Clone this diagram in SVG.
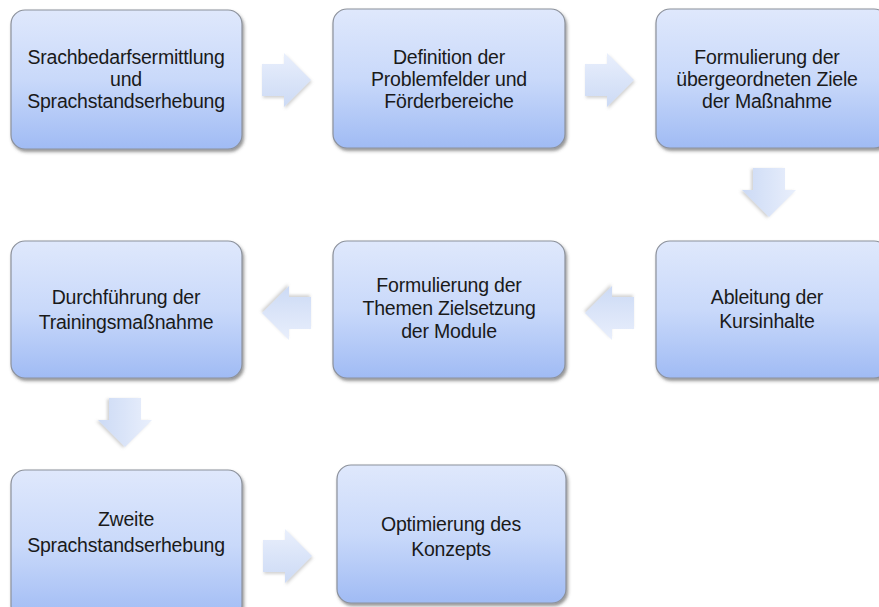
<svg xmlns="http://www.w3.org/2000/svg" width="879" height="607" viewBox="0 0 879 607">
<defs>
<linearGradient id="boxg" x1="0" y1="0" x2="0" y2="1">
<stop offset="0" stop-color="#dfe8fc"/>
<stop offset="0.5" stop-color="#c9d9fa"/>
<stop offset="1" stop-color="#a0bbf4"/>
</linearGradient>
<linearGradient id="arrh" x1="0" y1="0" x2="0" y2="1">
<stop offset="0" stop-color="#e9effc"/>
<stop offset="1" stop-color="#ccdaf5"/>
</linearGradient>
<filter id="sh" x="-10%" y="-10%" width="125%" height="125%">
<feDropShadow dx="1.5" dy="2.5" stdDeviation="1.5" flood-color="#404040" flood-opacity="0.55"/>
</filter>
<filter id="ash" x="-20%" y="-20%" width="150%" height="150%">
<feDropShadow dx="1" dy="2" stdDeviation="1.5" flood-color="#808080" flood-opacity="0.35"/>
</filter>
<path id="ar" d="M0,-16 L22,-16 L22,-27 L49,0 L22,27 L22,16 L0,16 Z"/>
</defs>
<style>
.box{fill:url(#boxg);stroke:#8c919b;stroke-width:1.2;filter:url(#sh)}
.arr{fill:url(#arrh);filter:url(#ash)}
text{font-family:"Liberation Sans",Arial,sans-serif;font-size:19.5px;fill:#1a1a1a;text-anchor:middle;letter-spacing:-0.2px}
</style>
<rect width="879" height="607" fill="#ffffff"/>
<g id="connectors">
<use href="#ar" class="arr" transform="translate(262,80)"/>
<use href="#ar" class="arr" transform="translate(585,80)"/>
<use href="#ar" class="arr" transform="translate(769,168) rotate(90)"/>
<use href="#ar" class="arr" transform="translate(634,313) rotate(180)"/>
<use href="#ar" class="arr" transform="translate(311,313) rotate(180)"/>
<use href="#ar" class="arr" transform="translate(125,398) rotate(90)"/>
<use href="#ar" class="arr" transform="translate(263,556)"/>
</g>
<g id="n1">
<rect class="box" x="11" y="10" width="231" height="139" rx="14"/>
<text x="126" y="64">Srachbedarfsermittlung</text>
<text x="126" y="86">und</text>
<text x="126" y="108">Sprachstandserhebung</text>
</g>
<g id="n2">
<rect class="box" x="333" y="9" width="232" height="139" rx="14"/>
<text x="449" y="64">Definition der</text>
<text x="449" y="86">Problemfelder und</text>
<text x="449" y="108">Förderbereiche</text>
</g>
<g id="n3">
<rect class="box" x="656" y="9" width="232" height="139" rx="14"/>
<text x="767" y="64">Formulierung der</text>
<text x="767" y="86">übergeordneten Ziele</text>
<text x="767" y="108">der Maßnahme</text>
</g>
<g id="n4">
<rect class="box" x="656" y="241" width="232" height="137" rx="14"/>
<text x="767" y="304">Ableitung der</text>
<text x="767" y="328">Kursinhalte</text>
</g>
<g id="n5">
<rect class="box" x="333" y="241" width="232" height="137" rx="14"/>
<text x="449" y="292">Formulierung der</text>
<text x="449" y="315">Themen Zielsetzung</text>
<text x="449" y="338">der Module</text>
</g>
<g id="n6">
<rect class="box" x="11" y="241" width="231" height="137" rx="14"/>
<text x="126" y="304">Durchführung der</text>
<text x="126" y="329">Trainingsmaßnahme</text>
</g>
<g id="n7">
<rect class="box" x="11" y="470" width="231" height="150" rx="14"/>
<text x="126" y="526">Zweite</text>
<text x="126" y="552">Sprachstandserhebung</text>
</g>
<g id="n8">
<rect class="box" x="337" y="465" width="229" height="138" rx="14"/>
<text x="451" y="531">Optimierung des</text>
<text x="451" y="556">Konzepts</text>
</g>
</svg>
